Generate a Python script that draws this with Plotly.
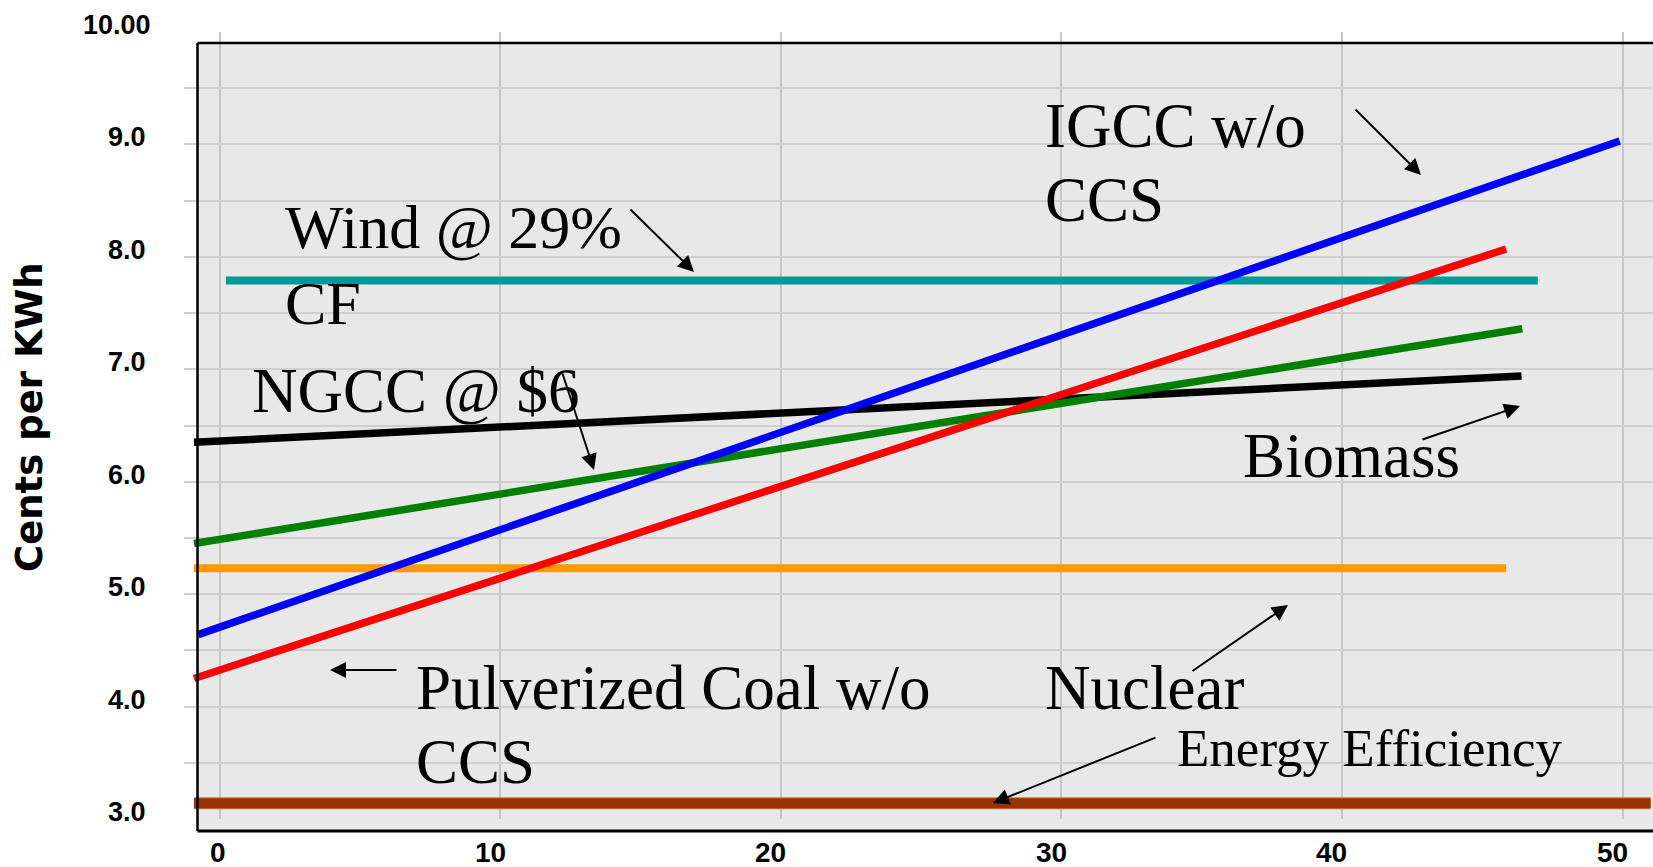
import plotly.graph_objects as go

# Generation cost lines (cents per kWh) against the x-axis value, end points of each line
igcc_x = [-0.76, 49.9]
igcc_y = [4.64, 9.03]
pc_x = [-0.91, 45.85]
pc_y = [4.25, 8.07]
ngcc_x = [-0.91, 46.43]
ngcc_y = [5.45, 7.36]
biomass_x = [-0.91, 46.4]
biomass_y = [6.35, 6.94]
nuclear_x = [-0.91, 45.85]
nuclear_y = [5.23, 5.23]
wind_x = [0.23, 46.98]
wind_y = [7.79, 7.79]
ee_x = [-0.91, 51.0]
ee_y = [3.14, 3.14]

x_ticks = [0, 10, 20, 30, 40, 50]
x_tick_labels = ["0", "10", "20", "30", "40", "50"]
y_ticks = [3, 4, 5, 6, 7, 8, 9, 10]
y_tick_labels = ["3.0", "4.0", "5.0", "6.0", "7.0", "8.0", "9.0", "10.00"]
y_grid = [3.5, 4.0, 4.5, 5.0, 5.5, 6.0, 6.5, 7.0, 7.5, 8.0, 8.5, 9.0, 9.5]

# page geometry (pixels)
W, H = 1653, 867
ML, MR, MT, MB = 184, 0, 32, 48
PW = W - ML - MR
PH = H - MT - MB


def px(xp):
    return (xp - ML) / PW


def py(yp):
    return (H - MB - yp) / PH


SERIF = "Times New Roman, Liberation Serif, serif"
SANS = "Arial, Liberation Sans, sans-serif"

fig = go.Figure()


def add_line(xs, ys, color, width):
    fig.add_trace(go.Scatter(x=xs, y=ys, mode="lines",
                             line=dict(color=color, width=width),
                             hoverinfo="skip", showlegend=False))


add_line(wind_x, wind_y, "#009999", 8)
add_line(nuclear_x, nuclear_y, "#FF9900", 8)
add_line(biomass_x, biomass_y, "#000000", 7.5)
add_line(ngcc_x, ngcc_y, "#008000", 7.5)
add_line(pc_x, pc_y, "#FF0000", 7.5)
add_line(igcc_x, igcc_y, "#0000FF", 7.5)
add_line(ee_x, ee_y, "#C97A45", 12)
add_line(ee_x, ee_y, "#993300", 10)

shapes = [
    # grey panel behind the grid
    dict(type="rect", xref="paper", yref="paper", x0=px(197.5), x1=1.0,
         y0=py(831), y1=py(43), fillcolor="#E8E8E8", line=dict(width=0),
         layer="below"),
    # frame: left, top, bottom
    dict(type="line", xref="paper", yref="paper", x0=px(197.5), x1=px(197.5),
         y0=py(831), y1=py(43), line=dict(color="black", width=2.5)),
    dict(type="line", xref="paper", yref="paper", x0=px(197.5), x1=1.0,
         y0=py(43), y1=py(43), line=dict(color="black", width=2.5)),
    dict(type="line", xref="paper", yref="paper", x0=px(197.5), x1=1.0,
         y0=py(831), y1=py(831), line=dict(color="black", width=3)),
]

annotations = []

# axis tick labels
for v, t in zip(x_ticks, x_tick_labels):
    annotations.append(dict(x=v, xref="x", y=0, yref="paper", text=f"<b>{t}</b>",
                            showarrow=False, xanchor="center", yanchor="middle",
                            xshift=-2 if v == 0 else -10, yshift=-33,
                            font=dict(family=SANS, size=28, color="black")))
for v, t in zip(y_ticks, y_tick_labels):
    annotations.append(dict(x=px(153 if v == 10 else 148), xref="paper", y=v, yref="y",
                            text=f"<b>{t}</b>", showarrow=False,
                            xanchor="right", yanchor="middle", yshift=7,
                            font=dict(family=SANS, size=27, color="black")))

# y-axis title
annotations.append(dict(x=px(29), y=py(417), xref="paper", yref="paper",
                        text="<b>Cents per KWh</b>", textangle=-90, showarrow=False,
                        xanchor="center", yanchor="middle",
                        font=dict(family="DejaVu Sans, Arial, sans-serif", size=37,
                                  color="black")))

# technology labels: text, left edge, vertical centre, size
labels = [
    ("IGCC w/o", 1044, 126, 63),
    ("CCS", 1044, 200, 63),
    ("Wind @ 29%", 284, 227, 62),
    ("CF", 284, 303, 62),
    ("NGCC @ $6", 251, 391, 63),
    ("Biomass", 1242, 456, 63),
    ("Pulverized Coal w/o", 415, 688, 63),
    ("CCS", 415, 762, 63),
    ("Nuclear", 1044, 688, 63),
    ("Energy Efficiency", 1176, 748, 53),
]
for text, lx, cy, size in labels:
    annotations.append(dict(x=px(lx), y=py(cy), xref="paper", yref="paper",
                            text=text, showarrow=False, xanchor="left",
                            yanchor="middle", borderpad=0,
                            font=dict(family=SERIF, size=size, color="black")))

# pointer arrows: (tip x, tip y, tail x, tail y)
arrows = [
    (1421, 175, 1354, 108),
    (694, 272, 629, 208),
    (594, 470, 562, 372),
    (1520, 406, 1421, 440),
    (330, 670, 398, 670),
    (1288, 605, 1191, 672),
    (993, 803, 1157, 737),
]
for tx, ty, sx, sy in arrows:
    annotations.append(dict(x=px(tx), y=py(ty), xref="paper", yref="paper",
                            ax=sx - tx, ay=sy - ty, axref="pixel", ayref="pixel",
                            text="", showarrow=True, arrowhead=2, arrowsize=1.6,
                            arrowwidth=2, arrowcolor="black", standoff=0))

fig.update_layout(
    width=W, height=H,
    margin=dict(l=ML, r=MR, t=MT, b=MB, pad=0),
    paper_bgcolor="white",
    plot_bgcolor="rgba(0,0,0,0)",
    showlegend=False,
    shapes=shapes,
    annotations=annotations,
    xaxis=dict(range=[(ML - 219.5) / 28.06, (W - 219.5) / 28.06],
               tickmode="array", tickvals=x_ticks, showticklabels=False,
               showgrid=True, gridcolor="#C6C6C6", gridwidth=2,
               zeroline=False, showline=False, ticks=""),
    yaxis=dict(range=[3, 10], tickmode="array", tickvals=y_grid,
               showticklabels=False, showgrid=True, gridcolor="#CFCFCF",
               gridwidth=2, zeroline=False, showline=False, ticks=""),
)

fig.write_html("out.html")
